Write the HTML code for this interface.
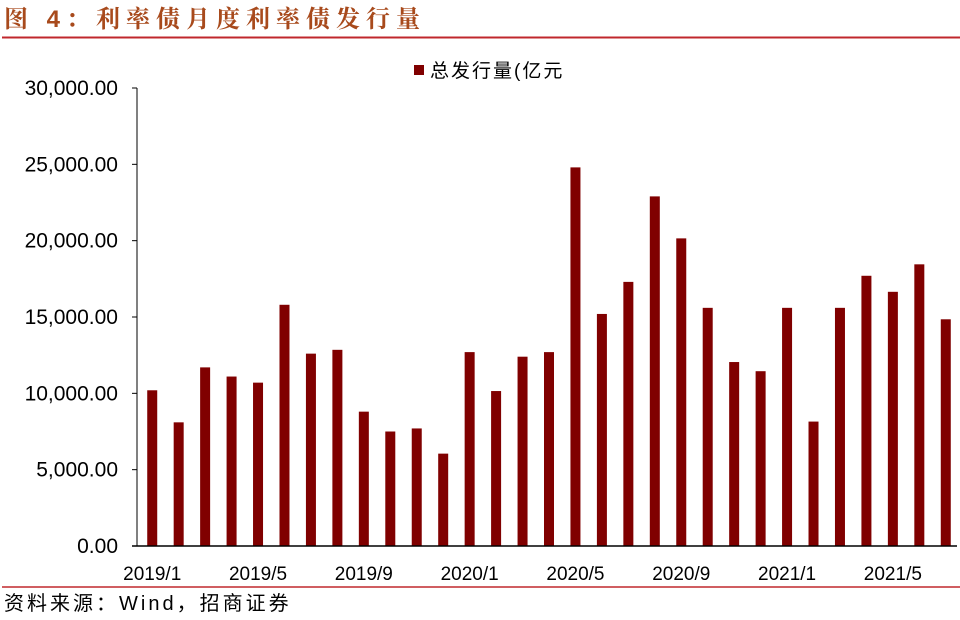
<!DOCTYPE html>
<html><head><meta charset="utf-8"><style>
body{margin:0;width:960px;height:615px;background:#fff;overflow:hidden;font-family:"Liberation Sans","Noto Sans CJK SC",sans-serif;}
</style></head><body>
<svg width="960" height="615" xmlns="http://www.w3.org/2000/svg">
<text x="4" y="27" font-size="24" font-weight="bold" fill="#a84a1c" font-family="'Liberation Sans','Noto Serif CJK SC',serif" letter-spacing="6">图 4：利率债月度利率债发行量</text>
<line x1="2" y1="37.5" x2="960" y2="37.5" stroke="#c0282d" stroke-width="2"/>
<rect x="414" y="65" width="10" height="10" fill="#800000"/>
<text x="430" y="77" font-size="19" fill="#000" letter-spacing="2">总发行量(亿元</text>
<g id="yaxis"></g>
<g id="bars"></g>
<g id="xaxis"></g>
<line x1="2" y1="587" x2="960" y2="587" stroke="#c0282d" stroke-width="1.5"/>
<text x="4" y="610" font-size="20" fill="#000" letter-spacing="3">资料来源：Wind，招商证券</text>
</svg>
<script>
const categories=["2019/1","2019/2","2019/3","2019/4","2019/5","2019/6","2019/7","2019/8","2019/9","2019/10","2019/11","2019/12","2020/1","2020/2","2020/3","2020/4","2020/5","2020/6","2020/7","2020/8","2020/9","2020/10","2020/11","2020/12","2021/1","2021/2","2021/3","2021/4","2021/5","2021/6","2021/7"];
const values=[10200,8100,11700,11100,10700,15800,12600,12850,8800,7500,7700,6050,12700,10150,12400,12700,24800,15200,17300,22900,20150,15600,12050,11450,15600,8150,15600,17700,16650,18450,14850];
const yTicks=[0,5000,10000,15000,20000,25000,30000];
const xLabelEvery=4;
const NS="http://www.w3.org/2000/svg";
const X0=137,X1=957,Y0=546,Y1=88,YMAX=30000;
const slot=(X1-X0)/categories.length;
const y=v=>Y0-(v/YMAX)*(Y0-Y1);
const x=i=>X0+2+slot*(i+0.5);
function mk(tag,attrs,parent){const e=document.createElementNS(NS,tag);for(const k in attrs)e.setAttribute(k,attrs[k]);parent.appendChild(e);return e;}
const ya=document.getElementById('yaxis'),ba=document.getElementById('bars'),xa=document.getElementById('xaxis');
const axl=mk('line',{x1:X0,y1:Y1,x2:X0,y2:Y0,stroke:'#000','stroke-width':1},ya);


yTicks.forEach(t=>{
 const tk=mk('line',{x1:X0-5,y1:y(t),x2:X0,y2:y(t),stroke:'#000'},ya);
 
 
 const tx=mk('text',{x:X0-19,y:y(t)+7,'font-size':21,'text-anchor':'end',fill:'#000'},ya);
 tx.textContent=t.toLocaleString('en-US',{minimumFractionDigits:2,maximumFractionDigits:2});
 
 
});
values.forEach((v,i)=>{
 const r=mk('rect',{x:x(i)-5,y:y(v),width:10,height:Y0-y(v),fill:'#800000'},ba);
 
 
});
const xl=mk('line',{x1:X0-5,y1:Y0,x2:X1,y2:Y0,stroke:'#000','stroke-width':1.5},xa);


categories.forEach((c,i)=>{
 if(i%xLabelEvery)return;
 const tx=mk('text',{x:x(i),y:580,'font-size':19,'text-anchor':'middle',fill:'#000'},xa);
 tx.textContent=c;
 
 
});
</script>
</body></html>
